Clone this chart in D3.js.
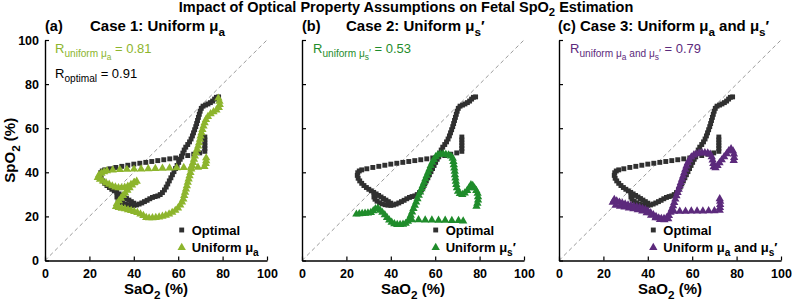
<!DOCTYPE html>
<html>
<head>
<meta charset="utf-8">
<script src="https://cdn.jsdelivr.net/npm/d3@7"></script>
<style>
  html, body { margin: 0; padding: 0; background: #fff; }
  svg { display: block; font-family: "Liberation Sans", Arial, Helvetica, sans-serif; }
</style>
</head>
<body>
<div id="chart"></div>
<script>
// ── data (SaO2 %, SpO2 %) ──
const OPTIMAL = [
  [78.2,74.2],[77.2,74],[76.4,73.2],[75.5,72.3],[74.5,71.6],[73.4,71],[72.3,70.5],[71.2,70],[70.4,69],[69.9,67.7],
  [69.5,66.3],[69.1,64.9],[68.7,63.5],[68.3,62.1],[67.9,60.7],[67.4,59.3],[66.9,57.9],[66.4,56.5],[65.8,55.1],[65.1,53.8],
  [64.3,52.6],[63.4,51.4],[62.7,50.1],[62.1,48.7],[61.5,47.3],[60.9,45.9],[60.2,44.5],[59.5,43.1],[58.8,41.7],[58.1,40.3],
  [57.4,38.9],[56.7,37.5],[56,36.1],[55.3,34.7],[54.6,33.3],[53.8,32],[52.9,30.8],[51.9,29.9],[50.8,29.3],[49.6,29],
  [48.4,28.6],[47.2,28],[46,27.3],[44.8,26.7],[43.6,26.1],[42.4,25.6],[41.2,25.2],
  [40,25],[38.7,25.1],[37.4,25.3],[36.1,25.7],[34.9,26.2],[33.8,26.9],[32.9,27.8],[32.4,28.8],[32.6,29.8],
  [24.9,38.6],[25.3,37.3],[26,36.1],[26.9,35],[27.9,34],[29,33.1],[30.1,32.3],[31.2,31.6],[32.3,30.9],[33.4,30.2],
  [34.5,29.5],[35.6,28.8],[36.7,28.1],[37.8,27.4],[38.9,26.7],[40,26],
  [25.1,39.8],[25.8,40.6],[26.9,41.1],
  [29.2,41.6],[31.9,42.2],[34.6,42.7],[37.3,43.2],[40,43.7],[42.7,44.1],[45.4,44.5],[48.1,44.9],[50.8,45.3],[53.5,45.7],
  [56.2,46.1],[58.9,46.5],[61.6,47],[64.3,47.6],[67,48.2],[69.7,48.8],[72,49.5],
  [72,50.8],[72,52.1],[72,53.4],[72,54.7],[72,56]
];

const UNIFORM_MUA = [
  [78.1,73.6],[78.6,72.2],[78.7,70.7],[78.3,69.3],[77.2,68.2],[75.9,67.4],[74.6,66.5],[73.4,65.3],[72.5,63.9],[71.9,62.4],
  [71.4,60.9],[70.9,59.4],[70.5,57.9],[70.1,56.4],[69.8,54.9],[69.4,53.4],[69,51.9],[68.5,50.4],[68,48.9],[67.5,47.4],
  [67.1,45.9],[66.7,44.4],[66.3,42.9],[65.9,41.4],[65.5,39.9],[65.1,38.4],[64.7,36.9],[64.3,35.4],[63.9,33.9],[63.5,32.4],
  [63.1,30.9],[62.7,29.4],[62.3,27.9],[61.7,26.5],[60.9,25.1],[59.9,23.8],[58.7,22.7],[57.3,21.8],[55.9,21.1],[54.4,20.5],
  [52.9,20],[51.4,19.7],[49.9,19.5],[48.4,19.4],[46.9,19.3],[45.6,19.5],
  [44.3,20.4],[43,21.1],[41.6,21.7],[40.2,22.2],[38.8,22.6],[37.4,23],[36,23.4],[34.6,23.7],[33.2,24],[32,24.5],
  [32.4,25.8],[33.3,27],[34.2,28.2],[35.1,29.4],[36.1,30.6],[37.1,31.8],[38.1,33],[39.2,34.2],[40.3,35.3],[41.3,35.9],
  [40,35.2],[38.7,34.4],[37.3,33.7],[35.9,33.2],[34.5,33],[33.1,33],[31.7,33.3],[30.3,33.8],[28.9,34.5],[27.5,35.2],
  [26.1,36],[24.8,36.8],[23.8,37.6],
  [24.3,38.7],[25.4,39.5],[26.6,40.2],[27.9,40.7],
  [30.5,41],[33.7,41.2],[36.9,41.3],[40.1,41.4],[43.3,41.5],[46.5,41.6],[49.7,41.7],[52.9,41.8],[56.1,41.9],[59.3,42],
  [62.5,42.1],[65.7,42.2],[68.9,42.3],[71.8,42.6],
  [72.4,43.9],[72.6,45.2],[72.6,46.5]
];

const UNIFORM_MUS = [
  [24.5,21],[25.8,21.2],[27.1,21.3],[28.4,21.4],[29.7,21.5],[31,21.7],[32.1,22.5],[33.1,23.4],[34.2,23.7],[35.2,22.8],
  [36.2,21.8],[37.3,20.7],[38.3,19.5],[39.3,18.3],[40.4,17.3],[41.6,16.6],[42.9,16.3],[44.2,16.3],[45.5,16.4],[46.7,16.8],
  [47.7,17.7],[48.4,19],[49,20.5],[49.6,22],[50.2,23.5],[50.8,25],[51.4,26.5],[52,28],[52.6,29.5],[53.2,31],
  [53.8,32.5],[54.4,34],[55,35.5],[55.6,37],[56.2,38.5],[56.8,40],[57.4,41.5],[58,43],[58.7,44.5],[59.4,45.8],
  [60.2,47],[61.2,47.9],[62.4,48.3],[63.6,48.3],[64.8,48.1],[66,47.8],[67.1,47.3],[67.9,46.3],[68.2,44.9],[68.4,43.4],
  [68.6,41.9],[68.8,40.4],[68.9,38.9],[69.1,37.4],[69.3,35.9],[69.5,34.4],[69.8,32.9],[70.3,31.4],[71.1,30.3],[72.2,29.9],
  [73.3,30.6],[74.4,31.7],[75.3,33],[76.1,34.3],[76.9,34],[77.7,32.9],[78.5,31.7],[79.1,30.4],[79.3,28.9],[79.3,27.4],
  [79,25.9],[78.6,24.6],
  [49.5,18.4],[52.5,18.4],[55.5,18.3],[58.5,18.3],[61.5,18.2],[64.5,18.2],[67.5,18.1],[70.5,18.1],[72.6,17.9]
];

const UNIFORM_MUA_MUS = [
  [24.2,26.4],[24.9,27.6],[26,27],[27.2,26.4],[28.5,26],[29.8,25.6],[31.1,25.2],[32.4,24.9],[33.7,24.6],[35,24.3],
  [36.3,24],[37.6,23.6],[38.9,23.1],[40.1,22.4],[41.3,21.6],[42.5,20.7],[43.7,19.9],[44.9,19.3],[46.1,19],[47.3,19],
  [48.5,19.4],[49.5,20.4],[50.2,21.8],[50.8,23.3],[51.4,24.8],[51.9,26.3],[52.4,27.8],[52.9,29.3],[53.4,30.8],[53.9,32.3],
  [54.4,33.8],[54.9,35.3],[55.4,36.8],[55.9,38.3],[56.4,39.8],[56.9,41.3],[57.4,42.8],[58,44.3],[58.7,45.7],[59.6,46.9],
  [60.7,47.8],[61.9,48.4],[63.1,48.7],[64.4,48.8],[65.7,48.8],[67,48.7],[68.1,48.2],[68.8,47],[69.2,45.5],[69.5,44],
  [69.7,42.5],[70.5,42],[71.4,43],[72.3,44.3],[73.3,45.6],[74.4,47],[75.5,48.4],[76.5,49.8],[77.5,50.6],[78.4,49.6],
  [78.8,48.2],[78.9,46.7],[78.7,45.3],
  [25.5,25],[27.5,24.6],[29.5,24.2],[31.5,23.8],[33.5,23.4],[35.5,23],[37.5,22.4],[39.5,21.6],[41.5,20.5],[43.5,19.4],
  [45.5,18.6],[47.5,18.4],[49.2,18.9],
  [51.8,22.3],[54.4,22.3],[57,22.3],[59.6,22.4],[62.2,22.4],[64.8,22.4],[67.4,22.5],[70,22.5],[72.4,22.7],
  [72.5,24],[72.6,25.4],[72.6,26.8],[72.4,28]
];

const X_TICKS = [0, 20, 40, 60, 80, 100];
const Y_TICKS = [0, 20, 40, 60, 80, 100];
const R_UNIFORM = [0.81, 0.53, 0.79];
const R_OPTIMAL = 0.91;

// text pieces: [string, level] (0 normal, 1 subscript, 2 sub-subscript)
const CASE_TITLES = [
  [["Case 1: Uniform μ", 0], ["a", 1]],
  [["Case 2: Uniform μ", 0], ["s", 1], ["′", 0]],
  [["Case 3: Uniform μ", 0], ["a", 1], [" and μ", 0], ["s", 1], ["′", 0]]
];
const PANEL_TAGS = ["(a)", "(b)", "(c)"];
const R_SUBS = [
  [["uniform μ", 1], ["a", 2]],
  [["uniform μ", 1], ["s", 2], ["′", 1]],
  [["uniform μ", 1], ["a", 2], [" and μ", 1], ["s", 2], ["′", 1]]
];
const LEGEND_NAMES = [
  [["Uniform μ", 0], ["a", 1]],
  [["Uniform μ", 0], ["s", 1], ["′", 0]],
  [["Uniform μ", 0], ["a", 1], [" and μ", 0], ["s", 1], ["′", 0]]
];
const SERIES = [UNIFORM_MUA, UNIFORM_MUS, UNIFORM_MUA_MUS];
const COLORS = ["#8db52d", "#1f8c2b", "#5c2a7c"];

(() => {
  const W = 792, H = 301;
  const PX = [45, 302, 559], PW = 222;   // panel left edges / width
  const TOP = 40, BOT = 260.5;
  const TAG_X = [45, 302, 558], CASE_X = [90, 346, 580];
  const LEG_X = [181.7, 435.7, 653.3];
  const OPT_COL = "#303030";

  const svg = d3.select("#chart").append("svg")
    .attr("width", W).attr("height", H).attr("viewBox", `0 0 ${W} ${H}`);

  // rich text with sub/sub-sub levels
  const rich = (sel, parts, size) => {
    const off = [0, 0.3, 0.52], sz = [1, 0.78, 0.64];
    let cur = 0;
    parts.forEach(([s, l]) => {
      const t = off[l] * size;
      sel.append("tspan").attr("dy", (t - cur).toFixed(2))
        .style("font-size", (sz[l] * size).toFixed(2) + "px").text(s);
      cur = t;
    });
    return sel;
  };

  // figure title
  rich(svg.append("text")
    .attr("x", 406).attr("y", 12).attr("text-anchor", "middle")
    .style("font-weight", "700").style("white-space", "pre"),
    [["Impact of Optical Property Assumptions on Fetal SpO", 0], ["2", 1], [" Estimation", 0]], 14.5);

  const y = d3.scaleLinear().domain([0, 100]).range([BOT, TOP]);
  const sq = d3.symbol().type(d3.symbolSquare).size(24)();
  const tri = d3.symbol().type(d3.symbolTriangle).size(30)();

  PX.forEach((x0, i) => {
    const x = d3.scaleLinear().domain([0, 100]).range([x0, x0 + PW]);
    const g = svg.append("g");

    // identity line
    g.append("line")
      .attr("x1", x(0)).attr("y1", y(0)).attr("x2", x(100)).attr("y2", y(100))
      .attr("stroke", "#9a9a9a").attr("stroke-width", 1).attr("stroke-dasharray", "4 3");

    // axes
    const ax = g.append("g").attr("transform", `translate(0,${BOT})`)
      .call(d3.axisBottom(x).tickValues(X_TICKS).tickSize(-4).tickSizeOuter(0).tickPadding(9));
    const ay = g.append("g").attr("transform", `translate(${x0},0)`)
      .call(d3.axisLeft(y).tickValues(Y_TICKS).tickSize(-4).tickSizeOuter(0).tickPadding(6)
        .tickFormat(i === 0 ? d3.format("d") : () => ""));
    [ax, ay].forEach(a => {
      a.select(".domain").attr("stroke", "#000").attr("stroke-width", 1.4);
      a.selectAll(".tick line").attr("stroke", "#000").attr("stroke-width", 1.2);
      a.selectAll(".tick text").attr("fill", "#000")
        .style("font-family", "'Liberation Sans', Arial, sans-serif")
        .style("font-size", "12.5px").style("font-weight", "700");
    });

    // markers: optimal first, uniform case on top
    g.append("g").selectAll("path").data(OPTIMAL).join("path")
      .attr("d", sq).attr("transform", d => `translate(${x(d[0])},${y(d[1])})`)
      .attr("fill", OPT_COL);
    g.append("g").selectAll("path").data(SERIES[i]).join("path")
      .attr("d", tri).attr("transform", d => `translate(${x(d[0])},${y(d[1])})`)
      .attr("fill", COLORS[i]);

    // panel headings
    g.append("text").attr("x", TAG_X[i]).attr("y", 31)
      .style("font-size", "14.5px").style("font-weight", "700").text(PANEL_TAGS[i]);
    rich(g.append("text").attr("x", CASE_X[i]).attr("y", 31)
      .style("font-weight", "700").style("white-space", "pre"), CASE_TITLES[i], 15);

    // correlation annotations
    rich(g.append("text").attr("x", x0 + (i === 2 ? 11 : 10) + (i === 1 ? 1 : 0)).attr("y", 53)
      .attr("fill", COLORS[i]).style("white-space", "pre"),
      [["R", 0]].concat(R_SUBS[i], [[" = " + R_UNIFORM[i].toFixed(2), 0]]), 13);
    if (i === 0) {
      rich(g.append("text").attr("x", x0 + 10).attr("y", 78)
        .attr("fill", "#000").style("white-space", "pre"),
        [["R", 0], ["optimal", 1], [" = " + R_OPTIMAL.toFixed(2), 0]], 13);
    }

    // legend
    const lx = LEG_X[i];
    g.append("path").attr("d", sq).attr("transform", `translate(${lx},230)`).attr("fill", OPT_COL);
    g.append("path").attr("d", tri).attr("transform", `translate(${lx},247.5)`).attr("fill", COLORS[i]);
    g.append("text").attr("x", lx + 10).attr("y", 235)
      .style("font-size", "13px").style("font-weight", "700").text("Optimal");
    rich(g.append("text").attr("x", lx + 10).attr("y", 252)
      .style("font-weight", "700").style("white-space", "pre"), LEGEND_NAMES[i], 13);

    // x label
    rich(g.append("text").attr("x", x(50)).attr("y", 294).attr("text-anchor", "middle")
      .style("font-weight", "700").style("white-space", "pre"),
      [["SaO", 0], ["2", 1], [" (%)", 0]], 15);
  });

  // y label (panel a only)
  rich(svg.append("text")
    .attr("transform", `translate(15,${(TOP + BOT) / 2}) rotate(-90)`)
    .attr("text-anchor", "middle")
    .style("font-weight", "700").style("white-space", "pre"),
    [["SpO", 0], ["2", 1], [" (%)", 0]], 15);
})();
</script>
</body>
</html>
